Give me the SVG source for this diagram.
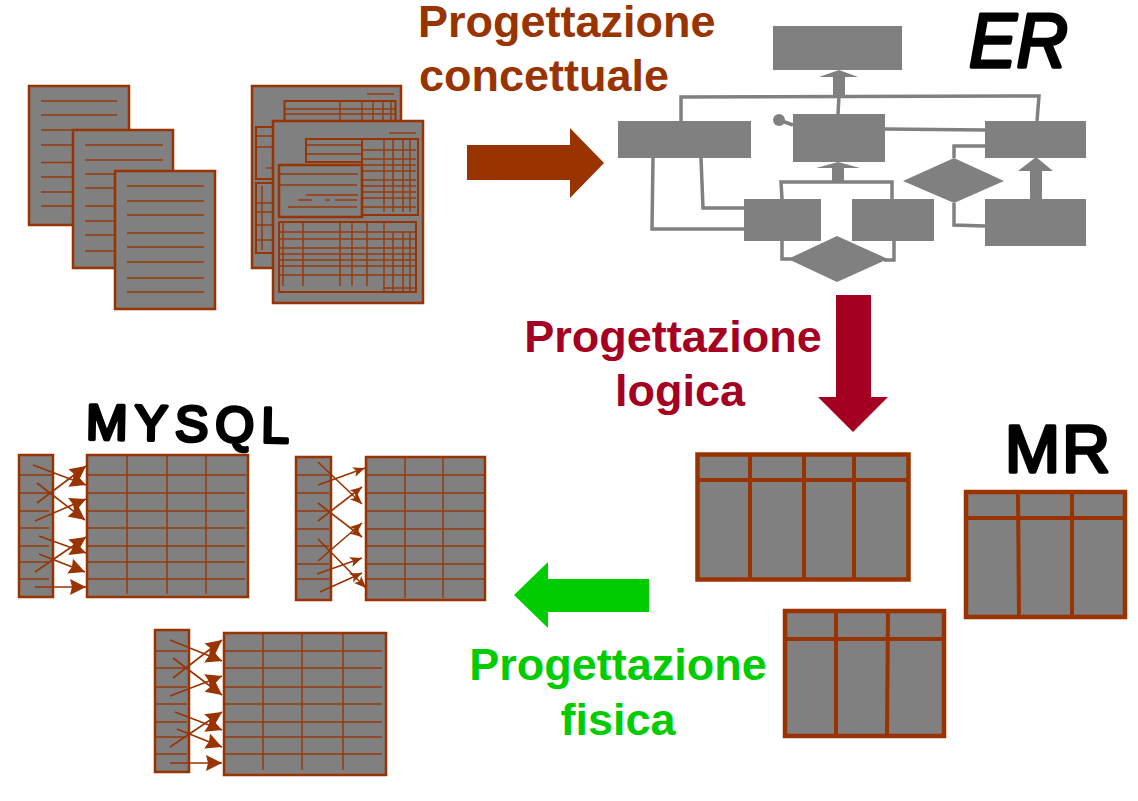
<svg xmlns="http://www.w3.org/2000/svg" width="1138" height="801" viewBox="0 0 1138 801">
<style>
.g{fill:#808080}
.p{fill:#808080;stroke:#993300;stroke-width:2.500}
.l{fill:none;stroke:#993300;stroke-width:1.500;opacity:.9}
.l2{fill:none;stroke:#993300;stroke-width:2}
.t4{fill:#808080;stroke:#993300;stroke-width:4.500}
.tl{fill:none;stroke:#993300;stroke-width:4}
.c{fill:none;stroke:#808080;stroke-width:3.500}
.a{fill:none;stroke:#993300;stroke-width:1.600;marker-end:url(#ah)}
.a2{fill:none;stroke:#993300;stroke-width:1.600;marker-end:url(#ahs)}
.h{font-family:"Liberation Sans",Arial,sans-serif;font-weight:700;font-size:45px}
.m{font-family:"Liberation Sans",Arial,sans-serif;font-weight:400;fill:#000;stroke:#000;stroke-width:3.500;stroke-linejoin:round;stroke-linecap:round}
</style>
<defs>
<marker id="ah" markerUnits="userSpaceOnUse" markerWidth="18" markerHeight="18" refX="16" refY="9" orient="auto"><path d="M0 1L16 9L0 17L2 9Z" fill="#993300"/></marker>
<marker id="ahs" markerUnits="userSpaceOnUse" markerWidth="14" markerHeight="12" refX="12" refY="5" orient="auto"><path d="M0 0L12 5L0 10L3 5Z" fill="#993300"/></marker>
</defs>
<rect width="1138" height="801" fill="#fff"/>

<g id="doc1"><rect class="p" x="29" y="86" width="100" height="139"/><path class="l" d="M41 101H117M41 115H117M41 130H117M41 145H117M41 162.500H117M41 177H117M41 192H117M41 206H117"/></g>
<g id="doc2"><rect class="p" x="73" y="130" width="100" height="138"/><path class="l" d="M85 145H163M85 160H163M85 174H163M85 188H163M85 206H163M85 221H163M85 235H163M85 251H163"/></g>
<g id="doc3"><rect class="p" x="115" y="171" width="100" height="138"/><path class="l" d="M127 186H204M127 201H204M127 215H204M127 233H204M127 247H204M127 262H204M127 278H204M127 292H204"/></g>

<g id="form-back">
<rect class="p" x="252" y="86" width="149" height="182"/>
<path class="l" d="M367 94H394"/>
<rect class="l2" x="284.500" y="101" width="111" height="30"/>
<path class="l" d="M340 101V125M362 101V125M373 101V125M383 101V125M391 101V125M285 109H395M285 114H395"/>
<rect class="l2" x="256" y="127" width="25" height="52"/>
<rect class="l2" x="256" y="183" width="25" height="70"/>
<path class="l" d="M256 136H275M256 147H275M266 168H275M256 203H275M256 212H275M256 225H275M256 240H275M262 186V250"/>
</g>
<g id="form-front">
<rect class="p" x="273" y="121" width="150" height="182"/>
<path class="l" d="M389 133H416"/>
<rect class="l2" x="306" y="139" width="56" height="23"/>
<rect class="l2" x="362" y="139" width="56" height="76"/>
<path class="l" d="M307 145H362M307 154H362M384 140V212M393 140V212M403 140V212M410 140V212M362 150H416M362 159H416M362 165H416M362 171H416M362 180H416M362 186H416M362 192H416M362 198H416M362 207H416"/>
<rect class="p" x="279" y="165" width="83" height="52"/>
<path class="l" d="M280 174H358M280 185H357M306 195H358M298 200H312M325 200H330M335 200H357M288 207H357"/>
<rect class="l2" x="279" y="222" width="137" height="70"/>
<path class="l" d="M283 223V286M303 223V286M340 223V286M352 223V286M367 223V286M384 223V291M393 232V291M403 232V291M410 232V291M280 232H416M280 239H416M280 248H416M280 254H416M280 260H416M280 266H416M280 275H416M384 288H416"/>
</g>

<g id="er-top"><rect class="g" x="773" y="26" width="129" height="44"/></g>
<g id="er-left"><rect class="g" x="618" y="121" width="133" height="37"/></g>
<g id="er-center"><rect class="g" x="793" y="114" width="92" height="48"/><circle class="g" cx="779" cy="120" r="6"/></g>
<g id="er-right"><rect class="g" x="985" y="121" width="101" height="37"/></g>
<g id="er-bl"><rect class="g" x="744" y="199" width="77" height="42"/></g>
<g id="er-bm"><rect class="g" x="852" y="199" width="82" height="42"/></g>
<g id="er-br"><rect class="g" x="985" y="199" width="101" height="47"/></g>
<g id="er-dr"><path class="g" d="M954 158L1004 181L954 203L903 181Z"/></g>
<g id="er-db"><path class="g" d="M837 236L888 259L837 282L788 259Z"/></g>

<g id="arrow-concettuale"><path d="M467 145H570V128L604 163L570 198V180H467Z" fill="#993300"/></g>
<g id="arrow-logica"><path d="M836 295H871V397H888L853 432L818 397H836Z" fill="#A50021"/></g>
<g id="arrow-fisica"><path d="M649 579H548V562L514 595L548 628V612H649Z" fill="#00CC00"/></g>

<g id="mr1">
<rect class="t4" x="697.500" y="454.500" width="211" height="125"/>
<path class="tl" d="M750 455V580M804 455V580M854 455V580M698 480H908"/>
</g>
<g id="mr2">
<rect class="t4" x="966" y="492" width="159" height="125"/>
<path class="tl" d="M1018 492L1019 617M1072 492V617M966 518H1125"/>
</g>
<g id="mr3">
<rect class="t4" x="785" y="611" width="159" height="125"/>
<path class="tl" d="M836 611V736M888 611L887 736M785 639H944"/>
</g>

<g id="mysql1">
<rect class="p" x="19" y="455" width="34" height="142"/>
<path class="l" d="M19 475H52M19 493H52M19 511H49M19 528H49M19 546H49M19 562H49M19 579H49"/>
<rect class="p" x="87" y="455" width="161" height="142"/>
<path class="l" d="M127 456V594M167 456V594M206 456V594M87 475H246M87 493H245M87 511H245M87 528H245M87 546H245M87 562H245M87 579H245"/>
</g>
<g id="mysql2">
<rect class="p" x="296" y="457" width="35" height="143"/>
<path class="l" d="M296 475H330M296 493H329M296 511H330M296 529H329M296 546H329M296 564H329M296 579H329"/>
<rect class="p" x="366" y="457" width="119" height="143"/>
<path class="l" d="M405 458V598M443 458V598M365 475H484M365 493H484M365 511H484M365 529H484M365 546H484M365 564H484M365 579H484"/>
</g>
<g id="mysql3">
<rect class="p" x="155" y="630" width="34" height="142"/>
<path class="l" d="M156 651H187M156 668H187M156 687H187M156 704H187M156 722H187M156 737H187M156 754H187"/>
<rect class="p" x="224" y="633" width="162" height="142"/>
<path class="l" d="M263 634V770M302 634V770M343 634V770M224 651H382M224 668H382M224 687H382M224 704H382M224 722H382M224 737H382M224 754H382"/>
</g>

<g id="connectors">
<path class="c" d="M681 121V97L1039 96L1037 121"/>
<path class="c" d="M839 96L838 114"/>
<path class="c" d="M782 199L781 182H892V199"/>
<path class="c" d="M885 129L985 130"/>
<path class="c" d="M985 146H954V158"/>
<path class="c" d="M954 203V225L985 226"/>
<path class="c" d="M653 158L652 229H744"/>
<path class="c" d="M701 158L703 208H744"/>
<path class="c" d="M782 241V259H792"/>
<path class="c" d="M894 241V260H884"/>
<path class="c" d="M779 120L793 125"/>
<path class="g" d="M839 70L858 77H845V97H833V77H819Z"/>
<path class="g" d="M838 162L860 168H844V182H832V168H816Z"/>
<path class="g" d="M1036 157L1053 171H1042V199H1030V171H1018Z"/>
<g id="mysql1-links">
<path class="a" d="M33 465L86 485"/><path class="a" d="M37 503L86 466"/><path class="a" d="M37 483L85 520"/><path class="a" d="M35 521L86 499"/><path class="a" d="M39 536L86 553"/><path class="a" d="M35 572L86 537"/><path class="a" d="M39 554L85 572"/><path class="a" d="M35 587H86"/>
</g>
<g id="mysql2-links">
<path class="a2" d="M318 485L365 468"/><path class="a2" d="M318 462L362 504"/><path class="a2" d="M318 521L362 487"/><path class="a2" d="M318 503L362 537"/><path class="a2" d="M318 561L362 523"/><path class="a2" d="M318 539L366 588"/><path class="a2" d="M317 574L362 558"/><path class="a2" d="M320 592L362 573"/>
</g>
<g id="mysql3-links">
<path class="a" d="M170 640L222 661"/><path class="a" d="M173 678L222 640"/><path class="a" d="M173 658L222 695"/><path class="a" d="M170 696L222 676"/><path class="a" d="M175 712L222 730"/><path class="a" d="M170 747L222 712"/><path class="a" d="M177 729L222 747"/><path class="a" d="M170 763H222"/>
</g>
</g>

<g id="labels">
<text class="h" x="418" y="37" fill="#993300">Progettazione</text>
<text class="h" x="544" y="91" fill="#993300" text-anchor="middle">concettuale</text>
<text class="h" x="673" y="352" fill="#A50021" text-anchor="middle">Progettazione</text>
<text class="h" x="680" y="406" fill="#A50021" text-anchor="middle">logica</text>
<text class="h" x="618" y="680" fill="#00CC00" text-anchor="middle">Progettazione</text>
<text class="h" x="618" y="735" fill="#00CC00" text-anchor="middle">fisica</text>
<text class="m" font-size="76" font-style="italic" x="969" y="67" textLength="99" lengthAdjust="spacingAndGlyphs">ER</text>
<text class="m" font-size="50" x="86" y="441" textLength="203" lengthAdjust="spacing" transform="rotate(1 186 425)">MYSQL</text>
<text class="m" font-size="66" x="1005" y="472" textLength="105" lengthAdjust="spacing">MR</text>
</g>
</svg>
